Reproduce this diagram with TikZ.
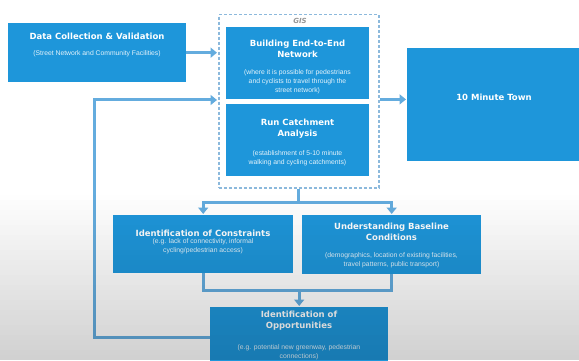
\documentclass[tikz,border=0pt]{standalone}
\usepackage{fontspec}
\setmainfont{DejaVu Sans}
\newfontfamily\subfont{Liberation Sans}
\usetikzlibrary{arrows.meta}
\definecolor{boxblue}{RGB}{30,150,218}
\definecolor{arrowblue}{RGB}{100,172,222}
\definecolor{dashblue}{RGB}{140,185,220}
\definecolor{gislabel}{RGB}{150,150,150}
\begin{document}
\begin{tikzpicture}[x=1pt,y=-1pt,
  box/.style={fill=boxblue, draw=none, anchor=north west, inner sep=0pt},
  ttl/.style={text=white, font=\fontsize{8.5}{11}\selectfont\bfseries, align=center, inner sep=0pt},
  sub/.style={text=white!88!boxblue, font=\subfont\fontsize{6.8}{9}\selectfont, align=center, inner sep=0pt},
  conn/.style={draw=arrowblue, line width=3pt},
  arr/.style={conn, -{Triangle[width=10pt,length=6.5pt]}, shorten >=1pt},
]
\useasboundingbox (0,0) rectangle (579,361);
\fill[white] (0,0) rectangle (579,361);

% boxes
\node[box, minimum width=178pt, minimum height=59pt] (data) at (8,23) {};
\node[draw=dashblue, dash pattern=on 3pt off 2pt, line width=1.5pt, anchor=north west, inner sep=0pt,
      minimum width=160pt, minimum height=173pt] (gis) at (218,14) {};
\node[box, minimum width=143pt, minimum height=72pt] (build) at (226,27) {};
\node[box, minimum width=143pt, minimum height=72pt] (run) at (226,104) {};
\node[box, minimum width=174pt, minimum height=113pt] (town) at (407,48) {};
\node[box, minimum width=180pt, minimum height=58pt] (cons) at (113,215) {};
\node[box, minimum width=179pt, minimum height=59pt] (base) at (302,215) {};
\node[box, minimum width=178pt, minimum height=60pt] (opp) at (210,307) {};

% texts
\node[ttl] (data-t) at (97,36) {Data Collection \& Validation};
\node[sub] (data-s) at (97,54) {(Street Network and Community Facilities)};
\node[inner sep=0pt, text=gislabel, font=\fontsize{7}{8}\selectfont\bfseries\itshape] (gis-l) at (300,21) {GIS};
\node[ttl] (build-t) at (297.5,48.5) {Building End-to-End\\Network};
\node[sub] (build-s) at (297.5,82) {(where it is possible for pedestrians\\and cyclists to travel through the\\street network)};
\node[ttl] (run-t) at (297.5,128.5) {Run Catchment\\Analysis};
\node[sub] (run-s) at (297.5,158) {(establishment of 5-10 minute\\walking and cycling catchments)};
\node[ttl] (town-t) at (494,97) {10 Minute Town};
\node[ttl] (cons-t) at (203,233) {Identification of Constraints};
\node[sub] (cons-s) at (203,246.5) {(e.g. lack of connectivity, informal\\cycling/pedestrian access)};
\node[ttl] (base-t) at (391.5,232) {Understanding Baseline\\Conditions};
\node[sub] (base-s) at (391.5,260.5) {(demographics, location of existing facilities,\\travel patterns, public transport)};
\node[ttl] (opp-t) at (299,321) {Identification of\\Opportunities};
\node[sub] (opp-s) at (299,352.5) {(e.g. potential new greenway, pedestrian\\connections)};

% connectors
\draw[arr] (data.east) -- (data.east -| gis.west);
\draw[arr] (gis.east |- build.south) -- (town.west |- build.south);
\path (gis.south) ++(0,14) coordinate (split);
\draw[conn] (gis.south) -- (split);
\draw[arr] (split) -| (cons.north);
\draw[arr] (split) -| (base.north);
\path (opp.north) ++(0,-17) coordinate (merge);
\draw[conn] (cons.south) |- (merge);
\draw[conn] (base.south) |- (merge);
\draw[arr] (merge) -- (opp.north);
\coordinate (loop) at (94,100);
\draw[arr] (opp.west) -| (loop) -- (loop -| gis.west);

% screen gradient overlay
\foreach \i [evaluate=\i as \op using \i*0.0055] in {0,...,33} {
  \fill[black, opacity=\op] (0,190+\i*5) rectangle (579,195.3+\i*5);
}
\end{tikzpicture}
\end{document}
